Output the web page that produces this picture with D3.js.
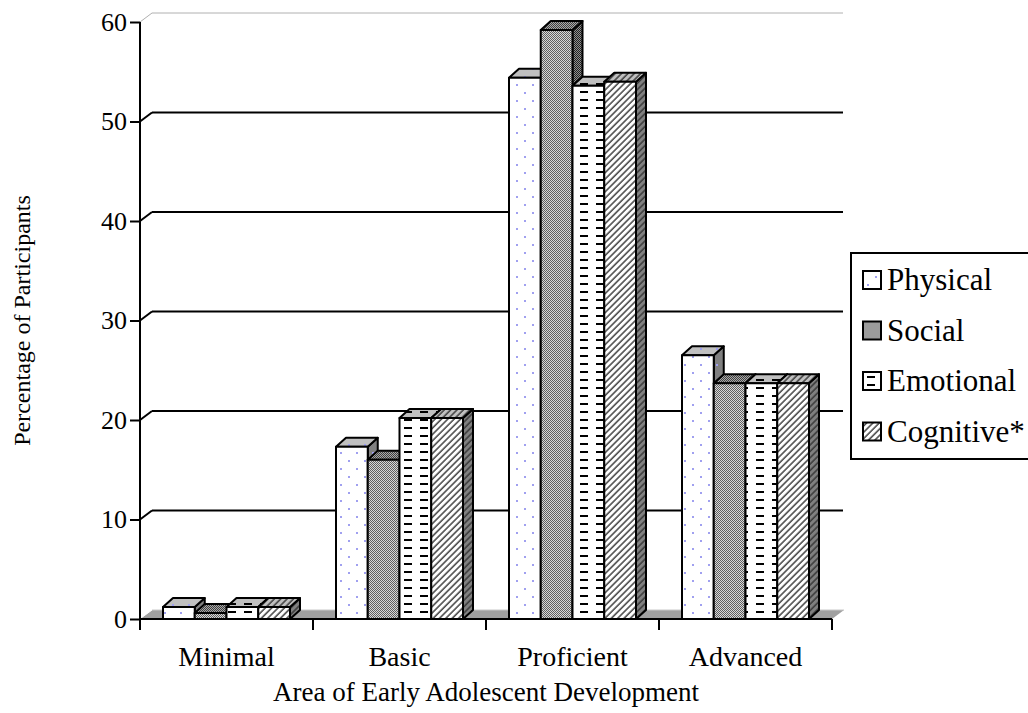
<!DOCTYPE html>
<html>
<head>
<meta charset="utf-8">
<script src="https://cdn.jsdelivr.net/npm/d3@7"></script>
<style>
  html, body { margin: 0; padding: 0; background: #fff; }
  svg { display: block; }
  svg text { font-family: "Liberation Serif", "Times New Roman", serif; fill: #000; }
</style>
</head>
<body>
<div id="chart"></div>
<script>
// data
const categories = ['Minimal', 'Basic', 'Proficient', 'Advanced'];
const seriesNames = ['Physical', 'Social', 'Emotional', 'Cognitive*'];
const physical = [1.2, 17.3, 54.4, 26.5];
const social = [0.6, 16.0, 59.2, 23.7];
const emotional = [1.2, 20.2, 53.6, 23.7];
const cognitive = [1.2, 20.2, 54.0, 23.7];
const yTicks = [0, 10, 20, 30, 40, 50, 60];
const xTitle = 'Area of Early Adolescent Development';
const yTitle = 'Percentage of Participants';

const seriesValues = [physical, social, emotional, cognitive];
const KEYS = ['phys', 'soc', 'emo', 'cog'];
const SERIF = 'Liberation Serif, Times New Roman, serif';

const W = 1028, H = 713;
const X0 = 140, X1 = 832;      // front floor edge
const WALL_DX = 12, WALL_DY = -9;
const BAR_DX = 10, BAR_DY = -9;
const BARS_W = 127;            // width of one group of 4 bars

const svg = d3.select('#chart').append('svg').attr('width', W).attr('height', H)
  .attr('font-family', SERIF);
const defs = svg.append('defs');

const x = d3.scaleBand().domain(categories).range([X0, X1]);
const xs = d3.scaleBand().domain(seriesNames).range([0, BARS_W]);
const y = d3.scaleLinear().domain([0, 60]).range([619, 22]);

// ─── PATTERNS ───
// face: front / top / side, each with its own base shade
const SHADES = { front: '#ffffff', top: '#c0c0c0', side: '#808080' };

const makeDots = (id, base) => {
  const p = defs.append('pattern').attr('id', id).attr('patternUnits', 'userSpaceOnUse')
    .attr('width', 16).attr('height', 16);
  p.append('rect').attr('width', 16).attr('height', 16).attr('fill', base);
  [[4, 4], [12, 12]].forEach(([cx, cy]) =>
    p.append('rect').attr('x', cx).attr('y', cy).attr('width', 2).attr('height', 2).attr('fill', '#a0a0f0'));
};

const makeChecker = (id, light, dark) => {
  const p = defs.append('pattern').attr('id', id).attr('patternUnits', 'userSpaceOnUse')
    .attr('width', 2).attr('height', 2);
  p.append('rect').attr('width', 2).attr('height', 2).attr('fill', light);
  p.append('rect').attr('width', 1).attr('height', 1).attr('fill', dark);
  p.append('rect').attr('x', 1).attr('y', 1).attr('width', 1).attr('height', 1).attr('fill', dark);
};

const makeDashes = (id, base) => {
  const p = defs.append('pattern').attr('id', id).attr('patternUnits', 'userSpaceOnUse')
    .attr('width', 16).attr('height', 8);
  p.append('rect').attr('width', 16).attr('height', 8).attr('fill', base);
  p.append('rect').attr('x', 4).attr('y', 3).attr('width', 8).attr('height', 2).attr('fill', '#000');
};

const makeStripes = (id, base) => {
  const p = defs.append('pattern').attr('id', id).attr('patternUnits', 'userSpaceOnUse')
    .attr('width', 4.5).attr('height', 4.5).attr('patternTransform', 'rotate(45)');
  p.append('rect').attr('width', 4.5).attr('height', 4.5).attr('fill', base);
  p.append('line').attr('x1', 1).attr('y1', 0).attr('x2', 1).attr('y2', 4.5)
    .attr('stroke', '#333').attr('stroke-width', 1.4);
};

Object.entries(SHADES).forEach(([face, base]) => {
  makeDots(`phys-${face}`, base);
  makeDashes(`emo-${face}`, base);
  makeStripes(`cog-${face}`, base);
});
makeChecker('soc-front', '#d8d8d8', '#606060');
makeChecker('soc-top', '#a8a8a8', '#404040');
makeChecker('soc-side', '#909090', '#202020');

// ─── WALL, FLOOR, GRID ───
const grid = svg.append('g');

grid.append('polygon')
  .attr('points', [[X0, y(0)], [X1, y(0)], [X1 + WALL_DX, y(0) + WALL_DY], [X0 + WALL_DX, y(0) + WALL_DY]].join(' '))
  .attr('fill', '#a0a0a0');
grid.append('line')
  .attr('x1', X0 + 1).attr('y1', y(0) - 1).attr('x2', X0 + WALL_DX).attr('y2', y(0) + WALL_DY)
  .attr('stroke', '#fff').attr('stroke-width', 1);
grid.append('line')
  .attr('x1', X0 + WALL_DX).attr('y1', y(0) + WALL_DY).attr('x2', X1 + WALL_DX).attr('y2', y(0) + WALL_DY)
  .attr('stroke', '#c8c8c8').attr('stroke-width', 1);

yTicks.filter(t => t > 0).forEach(t => {
  const top = t === 60;
  const col = top ? '#b0b0b0' : '#000';
  const sw = top ? 1 : 2;
  grid.append('line')
    .attr('x1', X0).attr('y1', y(t)).attr('x2', X0 + WALL_DX).attr('y2', y(t) + WALL_DY)
    .attr('stroke', col).attr('stroke-width', sw);
  grid.append('line')
    .attr('x1', X0 + WALL_DX).attr('y1', y(t) + WALL_DY).attr('x2', X1 + WALL_DX - 1).attr('y2', y(t) + WALL_DY)
    .attr('stroke', col).attr('stroke-width', sw);
});

// ─── BARS ───
const bars = svg.append('g').attr('stroke', '#000').attr('stroke-width', 2).attr('stroke-linejoin', 'round');

categories.forEach((cat, ci) => {
  const gx = x(cat) + (x.bandwidth() - BARS_W) / 2;
  seriesNames.forEach((name, si) => {
    const v = seriesValues[si][ci];
    const bx0 = gx + xs(name);
    const bx1 = bx0 + xs.bandwidth();
    const yt = y(v);
    const yb = y(0);
    const k = KEYS[si];
    bars.append('polygon')
      .attr('points', [[bx1, yt], [bx1 + BAR_DX, yt + BAR_DY], [bx1 + BAR_DX, yb + BAR_DY], [bx1, yb]].join(' '))
      .attr('fill', `url(#${k}-side)`);
    bars.append('polygon')
      .attr('points', [[bx0, yt], [bx0 + BAR_DX, yt + BAR_DY], [bx1 + BAR_DX, yt + BAR_DY], [bx1, yt]].join(' '))
      .attr('fill', `url(#${k}-top)`);
    bars.append('rect')
      .attr('x', bx0).attr('y', yt).attr('width', bx1 - bx0).attr('height', yb - yt)
      .attr('fill', `url(#${k}-front)`);
  });
});

// ─── AXES ───
const yAxis = svg.append('g').attr('transform', `translate(${X0},0)`)
  .call(d3.axisLeft(y).tickValues(yTicks).tickSize(10).tickPadding(3));
yAxis.attr('font-family', SERIF).attr('font-size', 26);
yAxis.select('.domain').attr('d', `M0,${y(60)}V${y(0) + 11}`).attr('stroke-width', 2);
yAxis.selectAll('.tick line').attr('stroke-width', 2);
yAxis.selectAll('.tick text').attr('font-size', 26).attr('font-family', SERIF).attr('fill', '#000');

const bounds = categories.map(c => x(c)).concat([X1]);
const xAxis = svg.append('g').attr('font-family', SERIF);
xAxis.append('line').attr('x1', X0).attr('x2', X1).attr('y1', y(0)).attr('y2', y(0))
  .attr('stroke', '#000').attr('stroke-width', 2);
xAxis.selectAll('line.tk').data(bounds.slice(1)).join('line').attr('class', 'tk')
  .attr('x1', d => d).attr('x2', d => d).attr('y1', y(0)).attr('y2', y(0) + 11)
  .attr('stroke', '#000').attr('stroke-width', 2);
xAxis.selectAll('text').data(categories).join('text')
  .attr('x', d => x(d) + x.bandwidth() / 2).attr('y', 666)
  .attr('text-anchor', 'middle').attr('font-size', 28).attr('font-family', SERIF).text(d => d);

svg.append('text').attr('x', (X0 + X1) / 2).attr('y', 701).attr('text-anchor', 'middle')
  .attr('font-size', 27).attr('font-family', SERIF).text(xTitle);
svg.append('text').attr('transform', `translate(30,${(y(0) + y(60)) / 2}) rotate(-90)`)
  .attr('text-anchor', 'middle').attr('font-size', 24).attr('font-family', SERIF).text(yTitle);

// ─── LEGEND ───
const legend = svg.append('g').attr('transform', 'translate(851,253)');
legend.append('rect').attr('x', 0).attr('y', 0).attr('width', 190).attr('height', 206)
  .attr('fill', '#fff').attr('stroke', '#000').attr('stroke-width', 2);
const entry = legend.selectAll('g.entry').data(seriesNames).join('g').attr('class', 'entry')
  .attr('transform', (d, i) => `translate(12,${27 + i * 50.5})`);
entry.append('rect').attr('x', 0).attr('y', -9).attr('width', 18).attr('height', 18)
  .attr('fill', (d, i) => `url(#${KEYS[i]}-front)`).attr('stroke', '#000').attr('stroke-width', 2);
entry.append('text').attr('x', 24).attr('y', 10).attr('font-size', 31).attr('font-family', SERIF).text(d => d);
</script>
</body>
</html>
